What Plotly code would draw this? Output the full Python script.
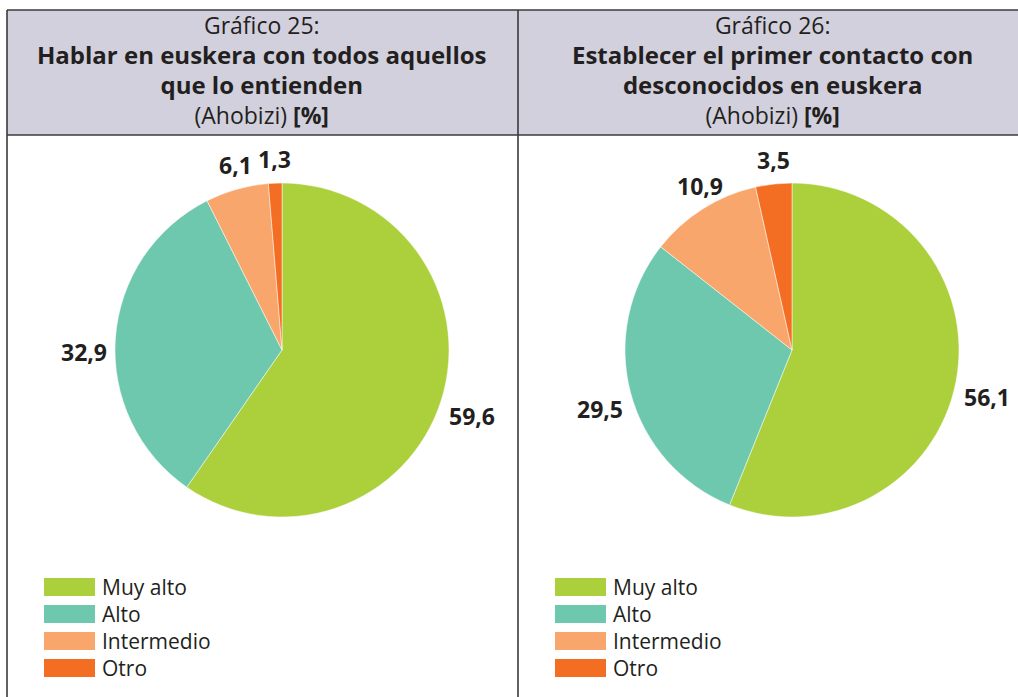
import math
import plotly.graph_objects as go

W, H = 1018, 697

categories = ["Muy alto", "Alto", "Intermedio", "Otro"]
colors = ["#accf3c", "#6ec8ae", "#f8a66b", "#f36e22"]
values_25 = [59.6, 32.9, 6.1, 1.3]
values_26 = [56.1, 29.5, 10.9, 3.5]
labels_25 = ["59,6", "32,9", "6,1", "1,3"]
labels_26 = ["56,1", "29,5", "10,9", "3,5"]
titles = [
    ("Gráfico 25:", "Hablar en euskera con todos aquellos", "que lo entienden"),
    ("Gráfico 26:", "Establecer el primer contacto con", "desconocidos en euskera"),
]

FONT = "Open Sans"
DARK = "#231f20"


def px(x):
    return x / W


def py(y):
    return 1 - y / H


fig = go.Figure()

pie_specs = [(values_25, labels_25, 282), (values_26, labels_26, 792)]
R = 167
CY = 350
annotations = []
for vals, labs, cx in pie_specs:
    fig.add_trace(go.Pie(
        labels=categories,
        values=vals,
        textinfo="none",
        marker=dict(colors=colors, line=dict(color="white", width=0.5)),
        sort=False,
        direction="clockwise",
        rotation=0,
        showlegend=False,
        hoverinfo="label+value",
        domain=dict(x=[px(cx - R), px(cx + R)], y=[py(CY + R), py(CY - R)]),
    ))
    # outside-end value labels, placed from each slice's mid angle
    total = sum(vals)
    cum = 0.0
    for v, lab in zip(vals, labs):
        mid = (cum + v / 2) / total * 2 * math.pi
        cum += v
        s, c = math.sin(mid), math.cos(mid)
        rr = R + 6
        ax = cx + rr * s
        ay = CY - rr * c
        side = abs(s) > 0.6
        xa = "left" if s > 0.6 else ("right" if s < -0.6 else "center")
        ya = "bottom" if c > 0.3 else ("top" if c < -0.3 else "middle")
        if side:
            ya = "middle"
        annotations.append(dict(x=px(ax), y=py(ay), xref="paper", yref="paper",
                                text="<b>" + lab + "</b>", showarrow=False,
                                xanchor=xa, yanchor=ya, yshift=-14 if side else 0,
                                font=dict(family=FONT, size=23, color=DARK)))

shapes = []
shapes.append(dict(type="rect", xref="paper", yref="paper",
                   x0=px(7), x1=1.0, y0=py(135), y1=py(10),
                   fillcolor="#d2d0dd", line=dict(width=0), layer="below"))
line_style = dict(color="#3a3a3a", width=1.6)
shapes.append(dict(type="line", xref="paper", yref="paper", x0=px(7), x1=1.0, y0=py(10), y1=py(10), line=line_style))
shapes.append(dict(type="line", xref="paper", yref="paper", x0=px(7), x1=1.0, y0=py(135), y1=py(135), line=line_style))
shapes.append(dict(type="line", xref="paper", yref="paper", x0=px(7), x1=px(7), y0=py(10), y1=0, line=line_style))
shapes.append(dict(type="line", xref="paper", yref="paper", x0=px(518), x1=px(518), y0=py(10), y1=0, line=line_style))

for (t1, t2, t3), cx in zip(titles, [262, 772]):
    header = (t1 + "<br><span style='font-size:24px'><b>" + t2 + "</b></span>"
              "<br><span style='font-size:24px'><b>" + t3 + "</b></span>"
              "<br>(Ahobizi) <b>[%]</b>")
    annotations.append(dict(x=px(cx), y=py(70), xref="paper", yref="paper", text=header,
                            showarrow=False, xanchor="center", yanchor="middle", align="center",
                            font=dict(family=FONT, size=23, color=DARK)))

for lx in [44, 555]:
    for i, (cat, col) in enumerate(zip(categories, colors)):
        yc = 587 + i * 27
        shapes.append(dict(type="rect", xref="paper", yref="paper",
                           x0=px(lx), x1=px(lx + 51), y0=py(yc + 9), y1=py(yc - 9),
                           fillcolor=col, line=dict(width=0)))
        annotations.append(dict(x=px(lx + 56), y=py(yc), xref="paper", yref="paper", text=cat,
                                showarrow=False, xanchor="left", yanchor="middle",
                                font=dict(family=FONT, size=21, color=DARK)))

fig.update_layout(
    width=W, height=H,
    margin=dict(l=0, r=0, t=0, b=0),
    paper_bgcolor="white",
    plot_bgcolor="white",
    shapes=shapes,
    annotations=annotations,
)

fig.write_html("out.html", config={"displayModeBar": False},
               post_script="document.body.style.margin='0';")
